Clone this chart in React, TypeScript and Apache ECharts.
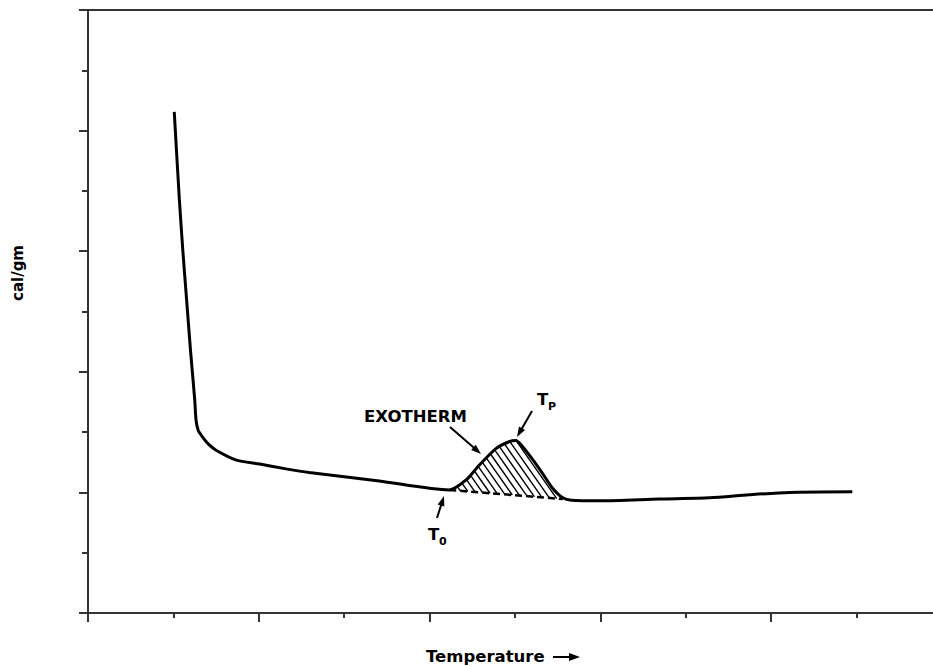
import React, { useEffect, useRef } from "react";
import * as echarts from "echarts";

// Thermogram curve (x: temperature in axis units, y: cal/gm in axis units)
const temperature = [
  1.01, 1.07, 1.11, 1.155, 1.2, 1.25, 1.265, 1.29, 1.34, 1.41, 1.5, 1.73, 2.01,
  2.32, 2.59, 3.41, 4.23, 4.43, 4.58, 4.78, 4.93, 5.01, 5.07, 5.21, 5.32, 5.44,
  5.56, 5.66, 5.99, 6.69, 7.28, 7.74, 8.21, 8.95,
];
const calPerGm = [
  8.31, 6.85, 6.02, 5.19, 4.36, 3.53, 3.2, 3.03, 2.92, 2.8, 2.7, 2.54, 2.47,
  2.39, 2.33, 2.19, 2.04, 2.21, 2.45, 2.73, 2.84, 2.86, 2.79, 2.54, 2.32, 2.07,
  1.91, 1.87, 1.86, 1.89, 1.91, 1.96, 2.0, 2.01,
];
// Extrapolated baseline under the exotherm (T0 -> end of peak)
const baselineTemp = [4.23, 5.56];
const baselineCal = [2.04, 1.89];

const axisMin = 0;
const axisMax = 10;
const minorInterval = 1;
const majorInterval = 2;

const FONT = "DejaVu Sans";
const AXIS_COLOR = "#333";

function arrow(x1: number, y1: number, x2: number, y2: number, head = 10, half = 3.5) {
  const a = Math.atan2(y2 - y1, x2 - x1);
  const c = Math.cos(a);
  const s = Math.sin(a);
  const bx = x2 - head * c;
  const by = y2 - head * s;
  return [
    {
      type: "line",
      shape: { x1, y1, x2: bx + c, y2: by + s },
      style: { stroke: "#000", lineWidth: 2 },
    },
    {
      type: "polygon",
      shape: {
        points: [
          [x2, y2],
          [bx - half * s, by + half * c],
          [bx + half * s, by - half * c],
        ],
      },
      style: { fill: "#000" },
    },
  ];
}

function txt(x: number, y: number, text: string, size: number) {
  return {
    type: "text",
    x,
    y,
    style: {
      text,
      fontFamily: FONT,
      fontWeight: "bold",
      fontSize: size,
      fill: "#000",
      align: "left",
      verticalAlign: "middle",
    },
  };
}

export default function App() {
  const ref = useRef<HTMLDivElement>(null);

  useEffect(() => {
    const chart = echarts.init(ref.current!, null, { renderer: "svg" });

    const startIdx = temperature.indexOf(baselineTemp[0]);
    const endIdx = temperature.indexOf(baselineTemp[1]);

    const hatchRender = (_params: any, api: any) => {
      const pts: number[][] = [];
      for (let i = startIdx; i <= endIdx; i++) {
        pts.push(api.coord([temperature[i], calPerGm[i]]));
      }
      pts.push(api.coord([baselineTemp[1], baselineCal[1]]));
      pts.push(api.coord([baselineTemp[0], baselineCal[0]]));
      const ang = (55 * Math.PI) / 180;
      const nx = Math.sin(ang);
      const ny = -Math.cos(ang);
      const dx = Math.cos(ang);
      const dy = Math.sin(ang);
      const sv = pts.map((p) => p[0] * nx + p[1] * ny);
      const sMin = Math.min(...sv);
      const sMax = Math.max(...sv);
      const step = 7 * nx;
      const children: any[] = [];
      const n = pts.length;
      for (let s = sMin + step / 2; s < sMax; s += step) {
        const hits: number[][] = [];
        for (let i = 0; i < n; i++) {
          const j = (i + 1) % n;
          const da = sv[i] - s;
          const db = sv[j] - s;
          if (da < 0 !== db < 0) {
            const t = da / (da - db);
            hits.push([
              pts[i][0] + t * (pts[j][0] - pts[i][0]),
              pts[i][1] + t * (pts[j][1] - pts[i][1]),
            ]);
          }
        }
        hits.sort((p, q) => p[0] * dx + p[1] * dy - (q[0] * dx + q[1] * dy));
        for (let k = 0; k + 1 < hits.length; k += 2) {
          children.push({
            type: "line",
            shape: { x1: hits[k][0], y1: hits[k][1], x2: hits[k + 1][0], y2: hits[k + 1][1] },
            style: { stroke: "#000", lineWidth: 1.4 },
          });
        }
      }
      return { type: "group", children };
    };

    const hiddenLabel = { show: false };
    const noSplit = { show: false };
    const axisLineStyle = { color: AXIS_COLOR, width: 2 };

    const option: any = {
      animation: false,
      backgroundColor: "#fff",
      grid: { left: 88, top: 10, width: 854, height: 603 },
      xAxis: [
        {
          type: "value",
          min: axisMin,
          max: axisMax,
          interval: minorInterval,
          position: "bottom",
          axisLine: { show: true, onZero: false, lineStyle: axisLineStyle },
          axisTick: { show: true, length: 5, lineStyle: axisLineStyle },
          axisLabel: hiddenLabel,
          splitLine: noSplit,
        },
        {
          type: "value",
          min: axisMin,
          max: axisMax,
          interval: majorInterval,
          position: "bottom",
          axisLine: { show: false, onZero: false },
          axisTick: { show: true, length: 9, lineStyle: axisLineStyle },
          axisLabel: hiddenLabel,
          splitLine: noSplit,
        },
        {
          type: "value",
          min: axisMin,
          max: axisMax,
          position: "top",
          axisLine: { show: true, onZero: false, lineStyle: axisLineStyle },
          axisTick: { show: false },
          axisLabel: hiddenLabel,
          splitLine: noSplit,
        },
      ],
      yAxis: [
        {
          type: "value",
          min: axisMin,
          max: axisMax,
          interval: minorInterval,
          position: "left",
          axisLine: { show: true, onZero: false, lineStyle: axisLineStyle },
          axisTick: { show: true, length: 6, lineStyle: axisLineStyle },
          axisLabel: hiddenLabel,
          splitLine: noSplit,
        },
        {
          type: "value",
          min: axisMin,
          max: axisMax,
          interval: majorInterval,
          position: "left",
          axisLine: { show: false, onZero: false },
          axisTick: { show: true, length: 9, lineStyle: axisLineStyle },
          axisLabel: hiddenLabel,
          splitLine: noSplit,
        },
      ],
      series: [
        {
          type: "custom",
          name: "exotherm area",
          coordinateSystem: "cartesian2d",
          xAxisIndex: 0,
          yAxisIndex: 0,
          renderItem: hatchRender,
          data: [[baselineTemp[0], baselineCal[0]]],
          silent: true,
          z: 1,
        },
        {
          type: "line",
          name: "baseline",
          xAxisIndex: 0,
          yAxisIndex: 0,
          data: baselineTemp.map((t, i) => [t, baselineCal[i]]),
          symbol: "none",
          lineStyle: { color: "#000", width: 2.5, type: [7, 4] },
          z: 2,
        },
        {
          type: "line",
          name: "thermogram",
          xAxisIndex: 0,
          yAxisIndex: 0,
          data: temperature.map((t, i) => [t, calPerGm[i]]),
          symbol: "none",
          smooth: 0.25,
          lineStyle: { color: "#000", width: 3 },
          z: 3,
        },
      ],
      graphic: [
        {
          type: "text",
          x: 18,
          y: 273,
          rotation: Math.PI / 2,
          style: {
            text: "cal/gm",
            fontFamily: FONT,
            fontWeight: "bold",
            fontSize: 15,
            fill: "#000",
            align: "center",
            verticalAlign: "middle",
          },
        },
        txt(426, 656, "Temperature", 16.5),
        ...arrow(553, 657, 580, 657, 11, 4),
        txt(364, 416, "EXOTHERM", 16.5),
        ...arrow(450, 427, 481, 454),
        txt(537, 399, "T", 16.5),
        txt(548, 406, "P", 11),
        ...arrow(532, 411, 517, 437),
        txt(428, 534, "T", 16.5),
        txt(439, 541, "0", 11),
        ...arrow(437, 518, 444, 496),
      ],
    };

    chart.setOption(option);
    return () => chart.dispose();
  }, []);

  return (
    <div
      style={{
        position: "fixed",
        left: 0,
        top: 0,
        width: 933,
        height: 666,
        overflow: "hidden",
        background: "#fff",
      }}
    >
      <div ref={ref} style={{ width: 960, height: 666 }} />
    </div>
  );
}
